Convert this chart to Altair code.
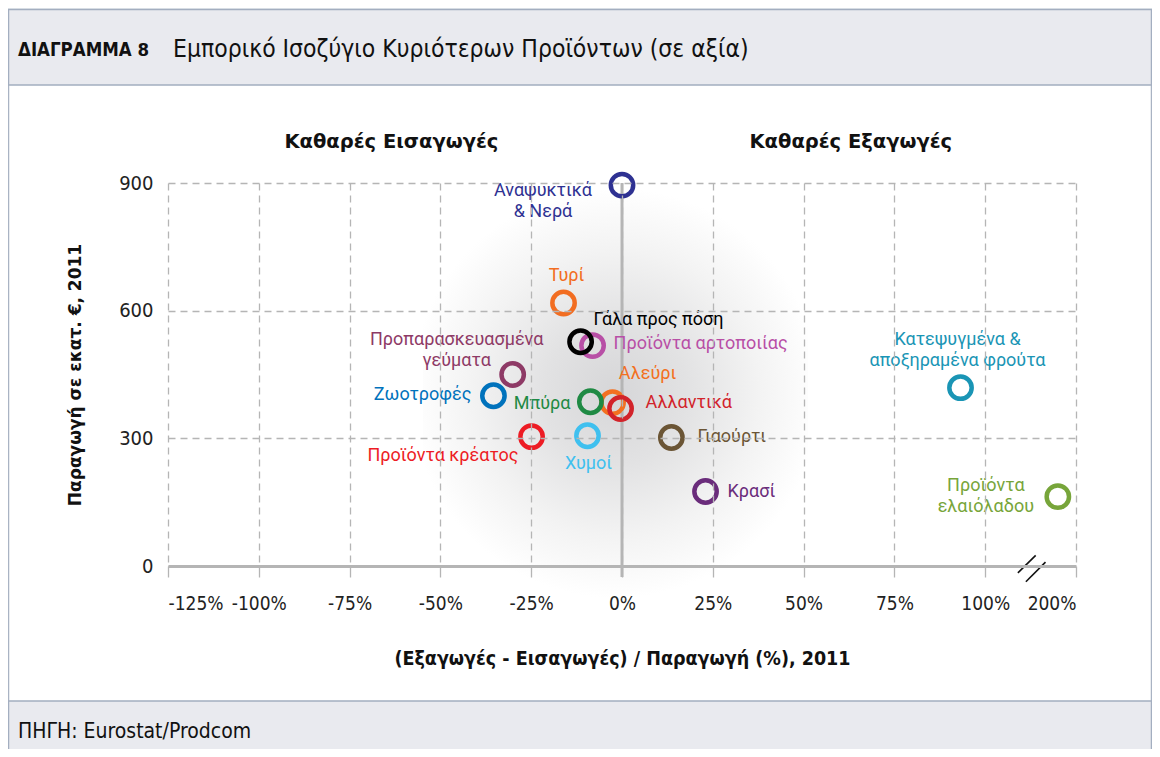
import altair as alt
import pandas as pd

# ---------------- data ----------------
products = [
    "Αναψυκτικά\n& Νερά", "Τυρί", "Προϊόντα αρτοποιίας", "Γάλα προς πόση",
    "Προπαρασκευασμένα\nγεύματα", "Ζωοτροφές", "Αλεύρι", "Μπύρα", "Αλλαντικά",
    "Προϊόντα κρέατος", "Χυμοί", "Γιαούρτι", "Κρασί",
    "Κατεψυγμένα &\nαποξηραμένα φρούτα", "Προϊόντα\nελαιόλαδου",
]
balance_pct = [0, -16.1, -8.1, -11.4, -30.1, -35.4, -2.6, -8.7, -0.4,
               -24.9, -9.5, 13.6, 23.0, 93.2, 180]
production = [895, 618, 518, 527, 450, 400, 384, 386, 370,
              304, 306, 302, 175, 419, 163]
colors = ["#2e3192", "#f26d21", "#b84fa6", "#000000", "#8e3a66", "#0072bc",
          "#f37021", "#1f8a44", "#d2232a", "#ed1c24", "#3fc0ef", "#6b5535",
          "#6a2c7b", "#1a95b5", "#77a53a"]

x_ticks = [-125, -100, -75, -50, -25, 0, 25, 50, 75, 100, 125]
y_ticks = [0, 300, 600, 900]
side_titles = ["Καθαρές Εισαγωγές", "Καθαρές Εξαγωγές"]
side_x = [-63.5, 63]

title_bold = "ΔΙΑΓΡΑΜΜΑ 8"
title_text = "Εμπορικό Ισοζύγιο Κυριότερων Προϊόντων (σε αξία)"
source_text = "ΠΗΓΗ: Eurostat/Prodcom"
x_title = "(Εξαγωγές - Εισαγωγές) / Παραγωγή (%), 2011"
y_title = "Παραγωγή σε εκατ. €, 2011"

# label placement (align, dx, dy of first line in px from point centre)
label_pos = {
    "Αναψυκτικά\n& Νερά": ("center", -79, 6),
    "Τυρί": ("center", 3, -27),
    "Γάλα προς πόση": ("left", 13, -22),
    "Προϊόντα αρτοποιίας": ("left", 21, -2),
    "Προπαρασκευασμένα\nγεύματα": ("center", -56, -35),
    "Ζωοτροφές": ("right", -22, -1),
    "Μπύρα": ("right", -20, 2),
    "Αλεύρι": ("center", 35, -29),
    "Αλλαντικά": ("left", 25, -6),
    "Προϊόντα κρέατος": ("right", -13, 19),
    "Χυμοί": ("center", 1, 28),
    "Γιαούρτι": ("left", 26, 0),
    "Κρασί": ("left", 22, 0),
    "Κατεψυγμένα &\nαποξηραμένα φρούτα": ("center", -3, -48),
    "Προϊόντα\nελαιόλαδου": ("center", -72, -11),
}

NARROW = "Liberation Sans Narrow, DejaVu Sans Condensed, Arial Narrow, Liberation Sans, sans-serif"
LABEL = "Roboto, Lato, Noto Sans, sans-serif"
BOLD = "DejaVu Sans, Liberation Sans, sans-serif"
GRID = "#b5b5b5"

df = pd.DataFrame({"name": products, "balance": balance_pct, "production": production})

X_SCALE = alt.Scale(domain=[-125, 125], nice=False, zero=False)
Y_SCALE = alt.Scale(domain=[0, 900], nice=False, zero=False)

base = alt.Chart(df).transform_calculate(
    xpos="datum.balance > 100 ? 100 + (datum.balance - 100) / 4 : datum.balance"
)

x_enc = alt.X(
    "xpos:Q", scale=X_SCALE, title=x_title,
    axis=alt.Axis(
        values=x_ticks,
        labelExpr="datum.value == 125 ? '200%' : datum.value + '%'",
        labelOverlap=False,
        grid=True, gridDash=[7, 5], gridColor=GRID, gridWidth=1.3,
        domain=True, domainColor=GRID, domainWidth=3,
        ticks=True, tickSize=11, tickColor=GRID, tickWidth=1.3,
        labelFont=NARROW, labelFontSize=19, labelColor="#222222", labelPadding=17,
        titleFont=NARROW, titleFontSize=19.5, titleFontWeight="bold", titleColor="#111111",
        titleY=92, titleBaseline="middle", zindex=1,
    ),
)
y_enc = alt.Y(
    "production:Q", scale=Y_SCALE, title=y_title,
    axis=alt.Axis(
        values=y_ticks, grid=True, gridDash=[7, 5], gridColor=GRID, gridWidth=1.3,
        domain=False, ticks=False,
        labelFont=NARROW, labelFontSize=20, labelColor="#222222", labelPadding=15,
        titleFont=BOLD, titleFontSize=17, titleFontWeight="bold", titleColor="#111111",
        titleX=-93, titleY=191.5, titleAngle=-90, titleAlign="center",
        titleBaseline="middle", zindex=1,
    ),
)

one = alt.Chart(pd.DataFrame({"k": [0]}))

# decorations (frame, header, footer)
frame = one.mark_rect(fill="white", stroke="#a9b3c3", strokeWidth=1.5).encode(
    x=alt.value(-159.5), x2=alt.value(983.5), y=alt.value(-173.5), y2=alt.value(620))
header = one.mark_rect(fill="#e9eaef", stroke="#a3aec0", strokeWidth=1.5).encode(
    x=alt.value(-159.5), x2=alt.value(983.5), y=alt.value(-173.5), y2=alt.value(-98))
footer = one.mark_rect(fill="#e9eaef", stroke="#a3aec0", strokeWidth=1.5).encode(
    x=alt.value(-159.5), x2=alt.value(983.5), y=alt.value(518), y2=alt.value(620))
t1 = one.mark_text(text=title_bold, font=NARROW, fontSize=18.5, fontWeight="bold",
                   align="left", baseline="middle", color="#111111").encode(
    x=alt.value(-150), y=alt.value(-133))
t2 = one.mark_text(text=title_text, font=NARROW, fontSize=24.5, align="left",
                   baseline="middle", color="#111111").encode(
    x=alt.value(5), y=alt.value(-133))
t3 = one.mark_text(text=source_text, font=NARROW, fontSize=21, align="left",
                   baseline="middle", color="#111111").encode(
    x=alt.value(-150), y=alt.value(549))

# radial shading in the centre
shade = one.mark_rect(
    fill=alt.RadialGradient(
        gradient="radial", x1=0.5, y1=0.5, x2=0.5, y2=0.5, r1=0, r2=0.5,
        stops=[alt.GradientStop(color="#d6d6d8", offset=0),
               alt.GradientStop(color="#e2e2e3", offset=0.35),
               alt.GradientStop(color="#f3f3f3", offset=0.7),
               alt.GradientStop(color="#ffffff", offset=1)],
    )
).encode(x=alt.value(255), x2=alt.value(640), y=alt.value(5), y2=alt.value(415))

# zero line (vertical)
zero_v = one.mark_rule(color=GRID, strokeWidth=3).encode(
    x=alt.value(454), y=alt.value(0), y2=alt.value(394))

# axis break symbol
brk = pd.DataFrame({"x": [109.0, 111.2], "x2": [113.9, 116.6],
                    "y": [-16, -37], "y2": [25, 9]})
brk_lines = alt.Chart(brk).mark_rule(color="#111111", strokeWidth=1.6).encode(
    x=alt.X("x:Q", scale=X_SCALE), x2="x2:Q",
    y=alt.Y("y:Q", scale=Y_SCALE), y2="y2:Q")

# side titles
sides = alt.Chart(pd.DataFrame({"t": side_titles, "x": side_x})).mark_text(
    font=BOLD, fontSize=19.5, fontWeight="bold", color="#111111", baseline="middle"
).encode(x=alt.X("x:Q", scale=X_SCALE), y=alt.value(-41), text="t:N")

color_scale = alt.Scale(domain=products, range=colors)

points = base.mark_point(shape="circle", filled=False, size=500, strokeWidth=4.5,
                         opacity=1).encode(
    x=x_enc, y=y_enc,
    color=alt.Color("name:N", scale=color_scale, legend=None),
)

label_layers = []
for name in products:
    align, dx, dy = label_pos[name]
    label_layers.append(
        base.transform_filter(alt.FieldEqualPredicate(field="name", equal=name))
        .mark_text(font=LABEL, fontSize=18, align=align, baseline="middle",
                   dx=dx, dy=dy, lineBreak="\n", lineHeight=21)
        .encode(
            x=alt.X("xpos:Q", scale=X_SCALE),
            y=alt.Y("production:Q", scale=Y_SCALE),
            text="name:N",
            color=alt.Color("name:N", scale=color_scale, legend=None),
        )
    )

chart = alt.layer(
    frame, header, footer, t1, t2, t3, shade, zero_v, points, *label_layers,
    brk_lines, sides,
).properties(
    width=908, height=383,
    padding={"left": 160, "top": 175, "right": 76, "bottom": 183},
    autosize=alt.AutoSizeParams(type="none"),
    background="white",
).configure_view(stroke=None)

chart.save("out.html", embed_options={"renderer": "svg", "actions": False})
